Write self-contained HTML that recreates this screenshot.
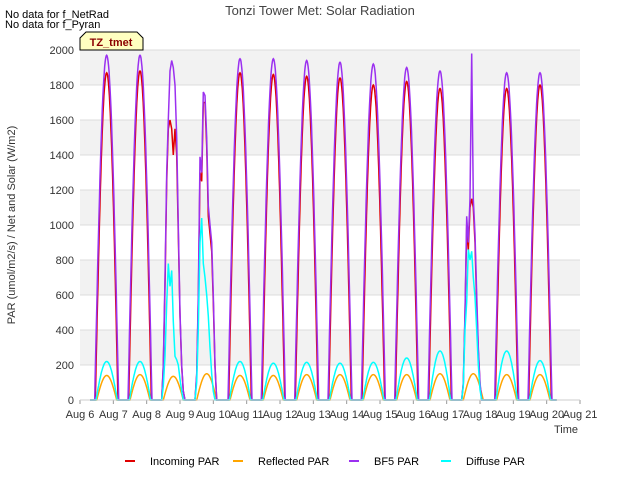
<!DOCTYPE html>
<html><head><meta charset="utf-8"><style>
body{margin:0;background:#fff;font-family:"Liberation Sans",sans-serif}
svg text{font-family:"Liberation Sans",sans-serif}
</style></head><body>
<svg id="c" width="640" height="480" xmlns="http://www.w3.org/2000/svg">
<text x="5" y="18" font-size="11" fill="#000">No data for f_NetRad</text>
<text x="5" y="28" font-size="11" fill="#000">No data for f_Pyran</text>
<text x="320" y="15" font-size="13" fill="#444" text-anchor="middle">Tonzi Tower Met: Solar Radiation</text>
<g id="plot"></g>
<g id="axes"></g>
<text x="15" y="225" font-size="11" fill="#333" text-anchor="middle" transform="rotate(-90 15 225)">PAR (umol/m2/s) / Net and Solar (W/m2)</text>
<text x="566" y="433" font-size="11" fill="#333" text-anchor="middle">Time</text>
<g>
<path d="M80,50 L80,38 L86,32 L137,32 L143,38 L143,50 Z" fill="#ffffc0" stroke="#000" stroke-width="1"/>
<text x="111" y="46" font-size="11" font-weight="bold" fill="#8b0000" text-anchor="middle">TZ_tmet</text>
</g>
<g id="legend"></g>
</svg>
<script>
const days=["Aug 6","Aug 7","Aug 8","Aug 9","Aug 10","Aug 11","Aug 12","Aug 13","Aug 14","Aug 15","Aug 16","Aug 17","Aug 18","Aug 19","Aug 20","Aug 21"];
const yTicks=[0,200,400,600,800,1000,1200,1400,1600,1800,2000];
const incomingPeak=[1870,1880,1560,1750,1870,1860,1850,1840,1800,1820,1780,1150,1780,1800];
const bf5Peak=[1970,1970,1930,1760,1950,1950,1940,1930,1920,1900,1880,1980,1870,1870];
const diffusePeak=[220,220,780,1040,220,210,215,210,215,240,280,860,280,225];
const reflectedPeak=[140,145,135,150,140,140,145,145,145,145,150,150,145,145];
// cloudy-day overrides, samples at t=0.45..1.15 step 0.05 (day fraction)
const cloudyBF5={2:[0,200,700,1300,1600,1880,1940,1900,1800,1500,1000,500,200,50,0],3:[0,150,600,1390,1300,1760,1740,1500,1110,1000,900,600,200,0,0],11:[0,100,500,1050,900,1150,1980,1150,950,600,300,100,0,0,0]};
const cloudyInc={2:[0,190,650,1250,1550,1600,1550,1400,1550,1400,950,480,190,50,0],3:[0,140,560,1300,1250,1700,1700,1450,1050,950,850,560,190,0,0],11:[0,90,480,1000,850,1100,1150,1100,900,550,280,90,0,0,0]};
const cloudyDif={2:[0,80,250,550,780,650,740,450,250,230,200,120,50,0,0],3:[0,100,400,900,1040,780,700,600,480,300,150,50,0,0,0],11:[0,80,400,560,860,800,850,700,590,400,200,60,0,0,0]};
const X0=80,X1=580,Y0=400,Y1=50;
const xs=d=>X0+(X1-X0)*d/15;
const ys=v=>Y0-(Y0-Y1)*v/2000;
const NS="http://www.w3.org/2000/svg";
function mk(t,a,p){const e=document.createElementNS(NS,t);for(const k in a)e.setAttribute(k,a[k]);p.appendChild(e);return e;}
const plot=document.getElementById('plot'),axes=document.getElementById('axes');
mk('rect',{x:X0,y:Y1,width:X1-X0,height:Y0-Y1,fill:'#fff'},plot);
for(let i=1;i<yTicks.length;i+=2){const b=mk('rect',{x:X0,y:ys(yTicks[i+1]||2000),width:X1-X0,height:ys(yTicks[i])-ys(yTicks[i+1]||2000),fill:'#f2f2f2'},plot);

}
yTicks.forEach(v=>{mk('line',{x1:X0,x2:X1,y1:ys(v),y2:ys(v),stroke:'#dcdcdc','stroke-width':1},plot);
const t=mk('text',{x:X0-6,y:ys(v)+4,'font-size':11,fill:'#333','text-anchor':'end'},axes);t.textContent=v;

});
days.forEach((d,i)=>{mk('line',{x1:xs(i),x2:xs(i),y1:Y0,y2:Y0+4,stroke:'#999'},axes);
const t=mk('text',{x:xs(i),y:Y0+18,'font-size':11,fill:'#333','text-anchor':'middle'},axes);t.textContent=d;

});
mk('line',{x1:X0,x2:X1,y1:Y0,y2:Y0,stroke:'#ccc'},axes);
function series(peaks,over,half,color,name){
  let pts=[];
  pts.push([xs(0.3),ys(0)]);
  for(let d=0;d<peaks.length;d++){
    if(over&&over[d]){pts.push([xs(d+0.3),ys(0)]);over[d].forEach((v,k)=>pts.push([xs(d+0.45+0.05*k),ys(v)]));}
    else{for(let k=0;k<=50;k++){const t=d+0.8-half+2*half*k/50;const s=Math.sin(Math.PI*k/50);pts.push([xs(t),ys(peaks[d]*s)]);}}
  }
  pts.push([xs(14.3),ys(0)]);
  const p=mk('polyline',{points:pts.map(q=>q[0].toFixed(1)+','+q[1].toFixed(1)).join(' '),fill:'none',stroke:color,'stroke-width':1.5},plot);
  
  
}
series(incomingPeak,cloudyInc,0.34,'#e00000','incoming-par-line');
series(reflectedPeak,null,0.3,'#ffa500','reflected-par-line');
series(bf5Peak,cloudyBF5,0.36,'#9b30f0','bf5-par-line');
series(diffusePeak,cloudyDif,0.32,'#00ffff','diffuse-par-line');
const leg=document.getElementById('legend');
[['Incoming PAR','#e00000',130],['Reflected PAR','#ffa500',238],['BF5 PAR','#9b30f0',354],['Diffuse PAR','#00ffff',446]].forEach(([n,c,x])=>{
 const g=mk('g',{},leg);
 
 
 mk('line',{x1:x-5,x2:x+5,y1:461,y2:461,stroke:c,'stroke-width':2},g);
 const t=mk('text',{x:x+20,y:465,'font-size':11,fill:'#000'},g);t.textContent=n;});
</script>
</body></html>
